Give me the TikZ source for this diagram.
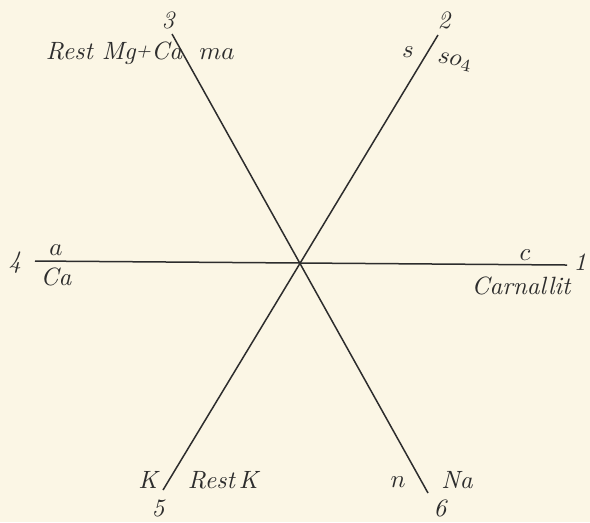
\documentclass[tikz,border=0pt]{standalone}
\usepackage{amsmath, amssymb}
\usepackage{xcolor}
\usepackage{tikz}
\definecolor{paper}{RGB}{251,246,229}
\definecolor{ink}{RGB}{45,45,45}

\begin{document}
\begin{tikzpicture}[x=0.4pt,y=-0.4pt,
  axis/.style={draw=ink,line width=0.6pt},
  lbl/.style={text=ink,inner sep=0pt,font=\itshape}]
\fill[paper] (0,0) rectangle (590,522);
\useasboundingbox (0,0) rectangle (590,522);
% ends of the three axes
\coordinate (p1) at (567,265);
\coordinate (p2) at (438,35);
\coordinate (p3) at (172,34);
\coordinate (p4) at (35,261);
\coordinate (p5) at (163,490);
\coordinate (p6) at (428,493);
\draw[axis] (p4) -- (p1);
\draw[axis] (p2) -- (p5);
\draw[axis] (p3) -- (p6);
% labels
\node[lbl] (n3) at (168,20) {3};
\node[lbl] (rmc) at (114,53) {Rest Mg\raisebox{0.3ex}{\scriptsize+}Ca};
\node[lbl] (ma) at (217,54) {\(ma\)};
\node[lbl] (n2) at (444,20) {2};
\node[lbl] (s) at (408,52) {\(s\)};
\node[lbl,rotate=-10] (so) at (455,62) {\(so_4\)};
\node[lbl] (n4) at (15,263) {4};
\node[lbl] (a) at (56,250) {\(a\)};
\node[lbl] (ca) at (56,277) {Ca};
\node[lbl] (c) at (525,255) {\(c\)};
\node[lbl] (n1) at (580,262) {1};
\node[lbl] (carn) at (521,286) {Carnallit};
\node[lbl] (k) at (148,480) {K};
\node[lbl] (rk) at (223,480) {Rest\,K};
\node[lbl] (n5) at (158,508) {5};
\node[lbl] (n) at (398,482) {\(n\)};
\node[lbl] (na) at (457,480) {Na};
\node[lbl] (n6) at (440,508) {6};
\end{tikzpicture}
\end{document}
